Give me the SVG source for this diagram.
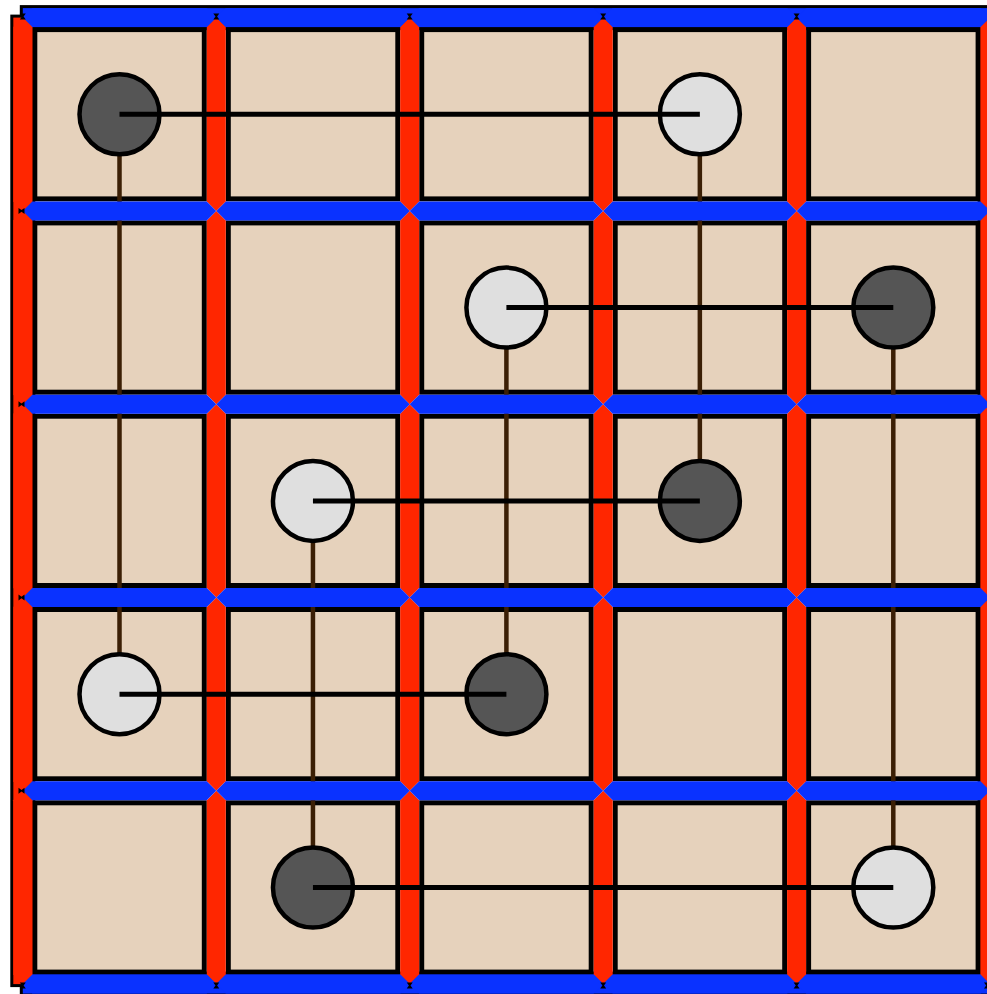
<svg xmlns="http://www.w3.org/2000/svg" xmlns:xlink="http://www.w3.org/1999/xlink" width="987" height="994" viewBox="0 0 987 994">
<style>
.cell{fill:#e6d2bc;stroke:#000;stroke-width:5}
.ol{fill:#000}
.red{fill:#ff2600}
.blue{fill:#0a32ff}
.tick{fill:#000}
.dark{fill:#555555;stroke:#000;stroke-width:4.5}
.light{fill:#dfdfdf;stroke:#000;stroke-width:4.5}
.hl{stroke:#000;stroke-width:5;fill:none}
.vl{stroke:#3b1f05;stroke-width:4.5;fill:none}
</style>
<defs>
<polygon id="vseg" points="0,0 9.5,9.5 9.5,183.8 0,193.3 -9.5,183.8 -9.5,9.5"/>
<polygon id="hseg" points="0,0 9.5,-9.5 183.95,-9.5 193.45,0 183.95,9.5 9.5,9.5"/>
<path id="tv" d="M-3,-3 L3,-3 L0.8,0 L3,3 L-3,3 L-0.8,0 Z"/>
<path id="th" d="M-3,-3 L0,-0.8 L3,-3 L3,3 L0,0.8 L-3,3 Z"/>
</defs>
<g id="board">
<rect class="cell" x="34.8" y="29.6" width="169.5" height="169.3"/>
<rect class="cell" x="228.3" y="29.6" width="169.5" height="169.3"/>
<rect class="cell" x="421.7" y="29.6" width="169.5" height="169.3"/>
<rect class="cell" x="615.2" y="29.6" width="169.5" height="169.3"/>
<rect class="cell" x="808.6" y="29.6" width="169.5" height="169.3"/>
<rect class="cell" x="34.8" y="222.9" width="169.5" height="169.3"/>
<rect class="cell" x="228.3" y="222.9" width="169.5" height="169.3"/>
<rect class="cell" x="421.7" y="222.9" width="169.5" height="169.3"/>
<rect class="cell" x="615.2" y="222.9" width="169.5" height="169.3"/>
<rect class="cell" x="808.6" y="222.9" width="169.5" height="169.3"/>
<rect class="cell" x="34.8" y="416.2" width="169.5" height="169.3"/>
<rect class="cell" x="228.3" y="416.2" width="169.5" height="169.3"/>
<rect class="cell" x="421.7" y="416.2" width="169.5" height="169.3"/>
<rect class="cell" x="615.2" y="416.2" width="169.5" height="169.3"/>
<rect class="cell" x="808.6" y="416.2" width="169.5" height="169.3"/>
<rect class="cell" x="34.8" y="609.5" width="169.5" height="169.3"/>
<rect class="cell" x="228.3" y="609.5" width="169.5" height="169.3"/>
<rect class="cell" x="421.7" y="609.5" width="169.5" height="169.3"/>
<rect class="cell" x="615.2" y="609.5" width="169.5" height="169.3"/>
<rect class="cell" x="808.6" y="609.5" width="169.5" height="169.3"/>
<rect class="cell" x="34.8" y="802.8" width="169.5" height="169.3"/>
<rect class="cell" x="228.3" y="802.8" width="169.5" height="169.3"/>
<rect class="cell" x="421.7" y="802.8" width="169.5" height="169.3"/>
<rect class="cell" x="615.2" y="802.8" width="169.5" height="169.3"/>
<rect class="cell" x="808.6" y="802.8" width="169.5" height="169.3"/>
</g>
<g id="connectors-vertical">
<line class="vl" x1="119.5" y1="114.3" x2="119.5" y2="694.2"/>
<line class="vl" x1="312.95" y1="500.9" x2="312.95" y2="887.5"/>
<line class="vl" x1="506.4" y1="307.6" x2="506.4" y2="694.2"/>
<line class="vl" x1="699.85" y1="114.3" x2="699.85" y2="500.9"/>
<line class="vl" x1="893.3" y1="307.6" x2="893.3" y2="887.5"/>
</g>
<g id="bars">
<rect class="ol" x="19.8" y="5.1" width="973.3" height="25"/>
<rect class="ol" x="19.8" y="971.6" width="973.3" height="25"/>
<rect class="ol" x="10.3" y="14.6" width="25" height="972.5"/>
<rect class="ol" x="977.6" y="14.6" width="25" height="972.5"/>
<rect class="blue" x="22.8" y="8.1" width="967.3" height="19"/>
<rect class="blue" x="22.8" y="974.6" width="967.3" height="19"/>
<rect class="red" x="13.3" y="17.6" width="19" height="966.5"/>
<rect class="red" x="980.6" y="17.6" width="19" height="966.5"/>
<g class="red">
<use xlink:href="#vseg" x="22.8" y="17.6"/><use xlink:href="#vseg" x="22.8" y="210.9"/><use xlink:href="#vseg" x="22.8" y="404.2"/><use xlink:href="#vseg" x="22.8" y="597.5"/><use xlink:href="#vseg" x="22.8" y="790.8"/>
<use xlink:href="#vseg" x="216.3" y="17.6"/><use xlink:href="#vseg" x="216.3" y="210.9"/><use xlink:href="#vseg" x="216.3" y="404.2"/><use xlink:href="#vseg" x="216.3" y="597.5"/><use xlink:href="#vseg" x="216.3" y="790.8"/>
<use xlink:href="#vseg" x="409.7" y="17.6"/><use xlink:href="#vseg" x="409.7" y="210.9"/><use xlink:href="#vseg" x="409.7" y="404.2"/><use xlink:href="#vseg" x="409.7" y="597.5"/><use xlink:href="#vseg" x="409.7" y="790.8"/>
<use xlink:href="#vseg" x="603.2" y="17.6"/><use xlink:href="#vseg" x="603.2" y="210.9"/><use xlink:href="#vseg" x="603.2" y="404.2"/><use xlink:href="#vseg" x="603.2" y="597.5"/><use xlink:href="#vseg" x="603.2" y="790.8"/>
<use xlink:href="#vseg" x="796.6" y="17.6"/><use xlink:href="#vseg" x="796.6" y="210.9"/><use xlink:href="#vseg" x="796.6" y="404.2"/><use xlink:href="#vseg" x="796.6" y="597.5"/><use xlink:href="#vseg" x="796.6" y="790.8"/>
<use xlink:href="#vseg" x="990.1" y="17.6"/><use xlink:href="#vseg" x="990.1" y="210.9"/><use xlink:href="#vseg" x="990.1" y="404.2"/><use xlink:href="#vseg" x="990.1" y="597.5"/><use xlink:href="#vseg" x="990.1" y="790.8"/>
</g>
<g class="blue">
<use xlink:href="#hseg" x="22.8" y="17.6"/><use xlink:href="#hseg" x="216.3" y="17.6"/><use xlink:href="#hseg" x="409.7" y="17.6"/><use xlink:href="#hseg" x="603.2" y="17.6"/><use xlink:href="#hseg" x="796.6" y="17.6"/>
<use xlink:href="#hseg" x="22.8" y="210.9"/><use xlink:href="#hseg" x="216.3" y="210.9"/><use xlink:href="#hseg" x="409.7" y="210.9"/><use xlink:href="#hseg" x="603.2" y="210.9"/><use xlink:href="#hseg" x="796.6" y="210.9"/>
<use xlink:href="#hseg" x="22.8" y="404.2"/><use xlink:href="#hseg" x="216.3" y="404.2"/><use xlink:href="#hseg" x="409.7" y="404.2"/><use xlink:href="#hseg" x="603.2" y="404.2"/><use xlink:href="#hseg" x="796.6" y="404.2"/>
<use xlink:href="#hseg" x="22.8" y="597.5"/><use xlink:href="#hseg" x="216.3" y="597.5"/><use xlink:href="#hseg" x="409.7" y="597.5"/><use xlink:href="#hseg" x="603.2" y="597.5"/><use xlink:href="#hseg" x="796.6" y="597.5"/>
<use xlink:href="#hseg" x="22.8" y="790.8"/><use xlink:href="#hseg" x="216.3" y="790.8"/><use xlink:href="#hseg" x="409.7" y="790.8"/><use xlink:href="#hseg" x="603.2" y="790.8"/><use xlink:href="#hseg" x="796.6" y="790.8"/>
<use xlink:href="#hseg" x="22.8" y="984.1"/><use xlink:href="#hseg" x="216.3" y="984.1"/><use xlink:href="#hseg" x="409.7" y="984.1"/><use xlink:href="#hseg" x="603.2" y="984.1"/><use xlink:href="#hseg" x="796.6" y="984.1"/>
</g>
<g class="tick">
<use xlink:href="#tv" x="22.8" y="16.6"/><use xlink:href="#tv" x="216.3" y="16.6"/><use xlink:href="#tv" x="409.7" y="16.6"/><use xlink:href="#tv" x="603.2" y="16.6"/><use xlink:href="#tv" x="796.6" y="16.6"/>
<use xlink:href="#tv" x="22.8" y="985.6"/><use xlink:href="#tv" x="216.3" y="985.6"/><use xlink:href="#tv" x="409.7" y="985.6"/><use xlink:href="#tv" x="603.2" y="985.6"/><use xlink:href="#tv" x="796.6" y="985.6"/><use xlink:href="#tv" x="987" y="985.6"/>
<use xlink:href="#th" x="21.5" y="210.9"/><use xlink:href="#th" x="21.5" y="404.2"/><use xlink:href="#th" x="21.5" y="597.5"/><use xlink:href="#th" x="21.5" y="790.8"/>
</g>
</g>
<g id="stone-r0c0"><circle class="dark" cx="119.5" cy="114.3" r="40"/></g>
<g id="stone-r0c3"><circle class="light" cx="699.85" cy="114.3" r="40"/></g>
<g id="stone-r1c2"><circle class="light" cx="506.4" cy="307.6" r="40"/></g>
<g id="stone-r1c4"><circle class="dark" cx="893.3" cy="307.6" r="40"/></g>
<g id="stone-r2c1"><circle class="light" cx="312.95" cy="500.9" r="40"/></g>
<g id="stone-r2c3"><circle class="dark" cx="699.85" cy="500.9" r="40"/></g>
<g id="stone-r3c0"><circle class="light" cx="119.5" cy="694.2" r="40"/></g>
<g id="stone-r3c2"><circle class="dark" cx="506.4" cy="694.2" r="40"/></g>
<g id="stone-r4c1"><circle class="dark" cx="312.95" cy="887.5" r="40"/></g>
<g id="stone-r4c4"><circle class="light" cx="893.3" cy="887.5" r="40"/></g>
<g id="connectors-horizontal">
<line class="hl" x1="119.5" y1="114.3" x2="699.85" y2="114.3"/>
<line class="hl" x1="506.4" y1="307.6" x2="893.3" y2="307.6"/>
<line class="hl" x1="312.95" y1="500.9" x2="699.85" y2="500.9"/>
<line class="hl" x1="119.5" y1="694.2" x2="506.4" y2="694.2"/>
<line class="hl" x1="312.95" y1="887.5" x2="893.3" y2="887.5"/>
</g>
</svg>
